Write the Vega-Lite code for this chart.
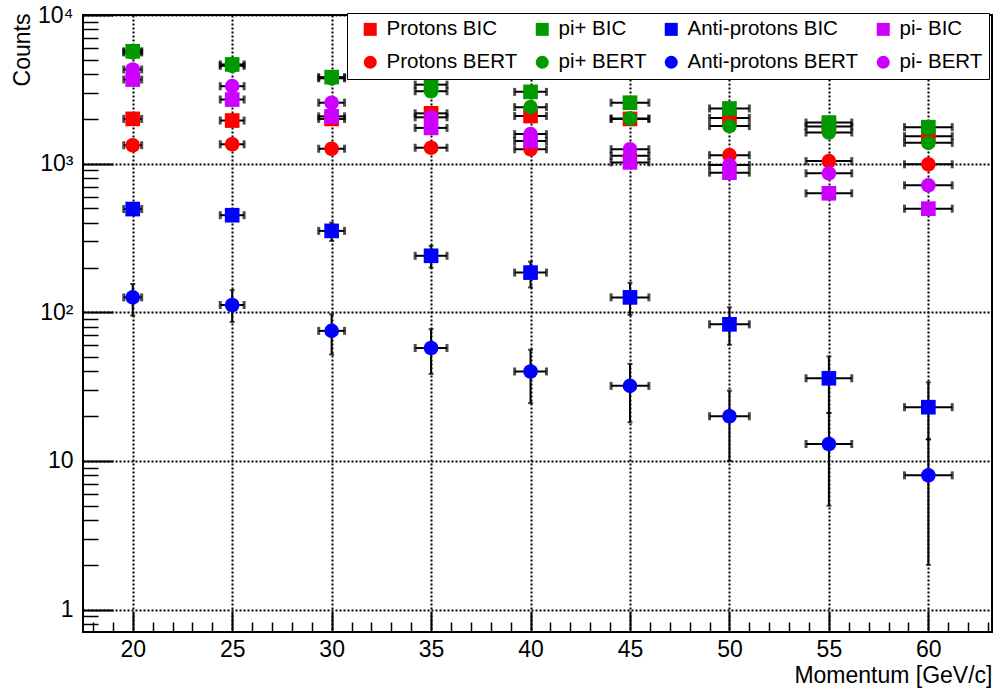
{
  "$schema": "https://vega.github.io/schema/vega-lite/v6.json",
  "width": 909,
  "height": 617,
  "autosize": {"type": "none"},
  "padding": {"left": 83, "top": 15, "right": 3, "bottom": 61},
  "background": "white",
  "config": {
    "view": {"stroke": "black", "strokeWidth": 2},
    "font": "Liberation Sans"
  },
  "data": {"values": [
    {"p": 20, "s": "Protons BIC", "v": 2000, "xl": 19.55, "xh": 20.45},
    {"p": 25, "s": "Protons BIC", "v": 1950, "xl": 24.4, "xh": 25.6},
    {"p": 30, "s": "Protons BIC", "v": 2000, "xl": 29.35, "xh": 30.65},
    {"p": 35, "s": "Protons BIC", "v": 2180, "xl": 34.2, "xh": 35.8},
    {"p": 40, "s": "Protons BIC", "v": 2090, "xl": 39.2, "xh": 40.8},
    {"p": 45, "s": "Protons BIC", "v": 2000, "xl": 44.05, "xh": 45.95},
    {"p": 50, "s": "Protons BIC", "v": 2030, "xl": 49, "xh": 51},
    {"p": 55, "s": "Protons BIC", "v": 1780, "xl": 53.85, "xh": 56.15},
    {"p": 60, "s": "Protons BIC", "v": 1530, "xl": 58.8, "xh": 61.2},
    {"p": 20, "s": "Protons BERT", "v": 1330, "xl": 19.55, "xh": 20.45},
    {"p": 25, "s": "Protons BERT", "v": 1350, "xl": 24.4, "xh": 25.6},
    {"p": 30, "s": "Protons BERT", "v": 1260, "xl": 29.35, "xh": 30.65},
    {"p": 35, "s": "Protons BERT", "v": 1280, "xl": 34.2, "xh": 35.8},
    {"p": 40, "s": "Protons BERT", "v": 1250, "xl": 39.2, "xh": 40.8},
    {"p": 45, "s": "Protons BERT", "v": 1130, "xl": 44.05, "xh": 45.95},
    {"p": 50, "s": "Protons BERT", "v": 1140, "xl": 49, "xh": 51},
    {"p": 55, "s": "Protons BERT", "v": 1040, "xl": 53.85, "xh": 56.15},
    {"p": 60, "s": "Protons BERT", "v": 990, "xl": 58.8, "xh": 61.2},
    {"p": 20, "s": "pi+ BIC", "v": 5700, "xl": 19.55, "xh": 20.45},
    {"p": 25, "s": "pi+ BIC", "v": 4650, "xl": 24.4, "xh": 25.6},
    {"p": 30, "s": "pi+ BIC", "v": 3820, "xl": 29.35, "xh": 30.65},
    {"p": 35, "s": "pi+ BIC", "v": 3400, "xl": 34.2, "xh": 35.8},
    {"p": 40, "s": "pi+ BIC", "v": 3040, "xl": 39.2, "xh": 40.8},
    {"p": 45, "s": "pi+ BIC", "v": 2570, "xl": 44.05, "xh": 45.95},
    {"p": 50, "s": "pi+ BIC", "v": 2350, "xl": 49, "xh": 51},
    {"p": 55, "s": "pi+ BIC", "v": 1890, "xl": 53.85, "xh": 56.15},
    {"p": 60, "s": "pi+ BIC", "v": 1760, "xl": 58.8, "xh": 61.2},
    {"p": 20, "s": "pi+ BERT", "v": 5600, "xl": 19.55, "xh": 20.45},
    {"p": 25, "s": "pi+ BERT", "v": 4550, "xl": 24.4, "xh": 25.6},
    {"p": 30, "s": "pi+ BERT", "v": 3750, "xl": 29.35, "xh": 30.65},
    {"p": 35, "s": "pi+ BERT", "v": 3070, "xl": 34.2, "xh": 35.8},
    {"p": 40, "s": "pi+ BERT", "v": 2400, "xl": 39.2, "xh": 40.8},
    {"p": 45, "s": "pi+ BERT", "v": 2010, "xl": 44.05, "xh": 45.95},
    {"p": 50, "s": "pi+ BERT", "v": 1790, "xl": 49, "xh": 51},
    {"p": 55, "s": "pi+ BERT", "v": 1620, "xl": 53.85, "xh": 56.15},
    {"p": 60, "s": "pi+ BERT", "v": 1380, "xl": 58.8, "xh": 61.2},
    {"p": 20, "s": "Anti-protons BIC", "v": 495, "xl": 19.55, "xh": 20.45, "lo": 473, "hi": 517},
    {"p": 25, "s": "Anti-protons BIC", "v": 450, "xl": 24.4, "xh": 25.6, "lo": 429, "hi": 471},
    {"p": 30, "s": "Anti-protons BIC", "v": 353, "xl": 29.35, "xh": 30.65, "lo": 302, "hi": 401},
    {"p": 35, "s": "Anti-protons BIC", "v": 240, "xl": 34.2, "xh": 35.8, "lo": 200, "hi": 280},
    {"p": 40, "s": "Anti-protons BIC", "v": 185, "xl": 39.2, "xh": 40.8, "lo": 147, "hi": 219},
    {"p": 45, "s": "Anti-protons BIC", "v": 126, "xl": 44.05, "xh": 45.95, "lo": 96, "hi": 158},
    {"p": 50, "s": "Anti-protons BIC", "v": 83, "xl": 49, "xh": 51, "lo": 60.5, "hi": 108},
    {"p": 55, "s": "Anti-protons BIC", "v": 36, "xl": 53.85, "xh": 56.15, "lo": 21, "hi": 50.5},
    {"p": 60, "s": "Anti-protons BIC", "v": 23, "xl": 58.8, "xh": 61.2, "lo": 14, "hi": 33.8},
    {"p": 20, "s": "Anti-protons BERT", "v": 126, "xl": 19.55, "xh": 20.45, "lo": 95, "hi": 155},
    {"p": 25, "s": "Anti-protons BERT", "v": 112, "xl": 24.4, "xh": 25.6, "lo": 86, "hi": 141},
    {"p": 30, "s": "Anti-protons BERT", "v": 75, "xl": 29.35, "xh": 30.65, "lo": 52, "hi": 97},
    {"p": 35, "s": "Anti-protons BERT", "v": 57.5, "xl": 34.2, "xh": 35.8, "lo": 38.5, "hi": 77},
    {"p": 40, "s": "Anti-protons BERT", "v": 40, "xl": 39.2, "xh": 40.8, "lo": 24.5, "hi": 56},
    {"p": 45, "s": "Anti-protons BERT", "v": 32, "xl": 44.05, "xh": 45.95, "lo": 18.2, "hi": 45},
    {"p": 50, "s": "Anti-protons BERT", "v": 20, "xl": 49, "xh": 51, "lo": 10, "hi": 29.7},
    {"p": 55, "s": "Anti-protons BERT", "v": 13, "xl": 53.85, "xh": 56.15, "lo": 5, "hi": 21},
    {"p": 60, "s": "Anti-protons BERT", "v": 8, "xl": 58.8, "xh": 61.2, "lo": 2, "hi": 14},
    {"p": 20, "s": "pi- BIC", "v": 3680, "xl": 19.55, "xh": 20.45},
    {"p": 25, "s": "pi- BIC", "v": 2700, "xl": 24.4, "xh": 25.6},
    {"p": 30, "s": "pi- BIC", "v": 2080, "xl": 29.35, "xh": 30.65},
    {"p": 35, "s": "pi- BIC", "v": 1740, "xl": 34.2, "xh": 35.8},
    {"p": 40, "s": "pi- BIC", "v": 1420, "xl": 39.2, "xh": 40.8},
    {"p": 45, "s": "pi- BIC", "v": 1020, "xl": 44.05, "xh": 45.95},
    {"p": 50, "s": "pi- BIC", "v": 870, "xl": 49, "xh": 51},
    {"p": 55, "s": "pi- BIC", "v": 632, "xl": 53.85, "xh": 56.15},
    {"p": 60, "s": "pi- BIC", "v": 498, "xl": 58.8, "xh": 61.2},
    {"p": 20, "s": "pi- BERT", "v": 4300, "xl": 19.55, "xh": 20.45},
    {"p": 25, "s": "pi- BERT", "v": 3320, "xl": 24.4, "xh": 25.6},
    {"p": 30, "s": "pi- BERT", "v": 2570, "xl": 29.35, "xh": 30.65},
    {"p": 35, "s": "pi- BERT", "v": 2050, "xl": 34.2, "xh": 35.8},
    {"p": 40, "s": "pi- BERT", "v": 1580, "xl": 39.2, "xh": 40.8},
    {"p": 45, "s": "pi- BERT", "v": 1250, "xl": 44.05, "xh": 45.95},
    {"p": 50, "s": "pi- BERT", "v": 980, "xl": 49, "xh": 51},
    {"p": 55, "s": "pi- BERT", "v": 861, "xl": 53.85, "xh": 56.15},
    {"p": 60, "s": "pi- BERT", "v": 715, "xl": 58.8, "xh": 61.2}
  ]},
  "layer": [
    {
      "mark": {"type": "rule", "color": "black", "strokeWidth": 2},
      "encoding": {
        "x": {"field": "xl", "type": "quantitative",
          "scale": {"domain": [17.5, 63.2], "nice": false, "zero": false},
          "axis": {"orient": "bottom", "values": [20, 25, 30, 35, 40, 45, 50, 55, 60], "format": "d",
            "ticks": false, "domain": false, "grid": true, "gridColor": "black", "gridDash": [2, 2], "gridWidth": 2, "gridOpacity": 1,
            "labelFontSize": 23, "labelColor": "black", "labelPadding": 6, "labelFlush": false, "labelOverlap": false, "labelBound": false,
            "title": "Momentum [GeV/c]", "titleFontSize": 23, "titleFontWeight": "normal", "titleColor": "black",
            "titleX": 909, "titleY": 50, "titleAlign": "right", "titleBaseline": "alphabetic"}},
        "x2": {"field": "xh"},
        "y": {"field": "v", "type": "quantitative",
          "scale": {"type": "log", "domain": [0.707, 10000], "nice": false},
          "axis": {"orient": "left", "values": [1, 10, 100, 1000, 10000],
            "labelExpr": "datum.value >= 10000 ? '10⁴' : datum.value >= 1000 ? '10³' : datum.value >= 100 ? '10²' : datum.value >= 10 ? '10' : '1'",
            "ticks": false, "domain": false, "grid": true, "gridColor": "black", "gridDash": [2, 2], "gridWidth": 2, "gridOpacity": 1,
            "labelFontSize": 23, "labelColor": "black", "labelPadding": 10, "labelFlush": false, "labelOverlap": false, "labelBound": false,
            "title": "Counts", "titleFontSize": 23, "titleFontWeight": "normal", "titleColor": "black", "titleAngle": -90,
            "titleX": -61, "titleY": -2, "titleAlign": "right", "titleBaseline": "middle"}}
      }
    },
    {
      "transform": [{"filter": "isValid(datum.lo)"}],
      "mark": {"type": "rule", "color": "black", "strokeWidth": 2},
      "encoding": {
        "x": {"field": "p", "type": "quantitative",
          "scale": {"domain": [17.5, 63.2], "nice": false, "zero": false},
          "axis": {"orient": "bottom", "values": [20, 25, 30, 35, 40, 45, 50, 55, 60], "labels": false, "domain": false, "grid": false,
            "ticks": true, "tickSize": -20, "tickWidth": 2, "tickColor": "black", "title": null}},
        "y": {"field": "lo", "type": "quantitative",
          "scale": {"type": "log", "domain": [0.707, 10000], "nice": false},
          "axis": {"orient": "left", "values": [1, 10, 100, 1000, 10000], "labels": false, "domain": false, "grid": false,
            "ticks": true, "tickSize": -30, "tickWidth": 2, "tickColor": "black", "title": null}},
        "y2": {"field": "hi"}
      }
    },
    {
      "mark": {"type": "tick", "orient": "vertical", "color": "black", "size": 8, "thickness": 3},
      "encoding": {
        "x": {"field": "xl", "type": "quantitative",
          "scale": {"domain": [17.5, 63.2], "nice": false, "zero": false},
          "axis": {"orient": "bottom", "values": [18, 19, 21, 22, 23, 24, 26, 27, 28, 29, 31, 32, 33, 34, 36, 37, 38, 39, 41, 42, 43, 44, 46, 47, 48, 49, 51, 52, 53, 54, 56, 57, 58, 59, 61, 62, 63],
            "labels": false, "domain": false, "grid": false, "ticks": true, "tickSize": -10, "tickWidth": 1.5, "tickColor": "black", "title": null}},
        "y": {"field": "v", "type": "quantitative",
          "scale": {"type": "log", "domain": [0.707, 10000], "nice": false},
          "axis": {"orient": "left", "values": [0.8, 0.9, 2, 3, 4, 5, 6, 7, 8, 9, 20, 30, 40, 50, 60, 70, 80, 90, 200, 300, 400, 500, 600, 700, 800, 900, 2000, 3000, 4000, 5000, 6000, 7000, 8000, 9000],
            "labels": false, "domain": false, "grid": false, "ticks": true, "tickSize": -15, "tickWidth": 1.5, "tickColor": "black", "title": null}}
      }
    },
    {
      "mark": {"type": "tick", "orient": "vertical", "color": "black", "size": 8, "thickness": 3},
      "encoding": {
        "x": {"field": "xh", "type": "quantitative", "axis": null},
        "y": {"field": "v", "type": "quantitative", "axis": null}
      }
    },
    {
      "transform": [{"filter": "isValid(datum.lo)"}],
      "mark": {"type": "tick", "orient": "horizontal", "color": "black", "size": 5, "thickness": 2},
      "encoding": {
        "x": {"field": "p", "type": "quantitative", "axis": null},
        "y": {"field": "lo", "type": "quantitative", "axis": null}
      }
    },
    {
      "transform": [{"filter": "isValid(datum.hi)"}],
      "mark": {"type": "tick", "orient": "horizontal", "color": "black", "size": 5, "thickness": 2},
      "encoding": {
        "x": {"field": "p", "type": "quantitative", "axis": null},
        "y": {"field": "hi", "type": "quantitative", "axis": null}
      }
    },
    {
      "mark": {"type": "point", "filled": true, "opacity": 1, "size": 215, "strokeWidth": 0},
      "encoding": {
        "x": {"field": "p", "type": "quantitative", "axis": null},
        "y": {"field": "v", "type": "quantitative", "axis": null},
        "color": {"field": "s", "type": "nominal",
          "scale": {"domain": ["Protons BIC", "Protons BERT", "pi+ BIC", "pi+ BERT", "Anti-protons BIC", "Anti-protons BERT", "pi- BIC", "pi- BERT"],
            "range": ["#ff0000", "#ff0000", "#009900", "#009900", "#0000ff", "#0000ff", "#cc00ff", "#cc00ff"]},
          "legend": {"orient": "none", "legendX": 264, "legendY": -2, "columns": 4, "title": null,
            "labelFontSize": 20.5, "labelColor": "black", "labelFont": "Liberation Sans", "labelLimit": 400, "labelOffset": 6,
            "symbolSize": 169, "symbolStrokeWidth": 0, "symbolOpacity": 1, "symbolOffset": 7,
            "strokeColor": "black", "fillColor": "white", "padding": 6, "columnPadding": 7, "rowPadding": 12}},
        "shape": {"field": "s", "type": "nominal",
          "scale": {"domain": ["Protons BIC", "Protons BERT", "pi+ BIC", "pi+ BERT", "Anti-protons BIC", "Anti-protons BERT", "pi- BIC", "pi- BERT"],
            "range": ["square", "circle", "square", "circle", "square", "circle", "square", "circle"]}}
      }
    }
  ],
  "resolve": {"axis": {"x": "independent", "y": "independent"}}
}
